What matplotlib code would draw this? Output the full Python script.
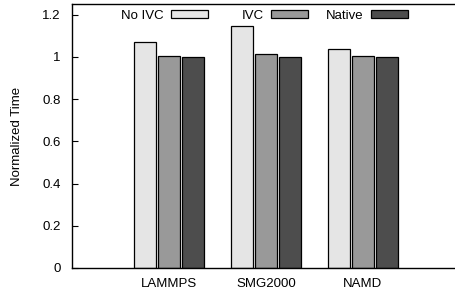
import numpy as np
import matplotlib
matplotlib.use("Agg")
import matplotlib.pyplot as plt
from matplotlib.ticker import FuncFormatter

plt.rcParams['font.family'] = ['Liberation Sans', 'DejaVu Sans']
plt.rcParams['font.size'] = 9.5

# data
benchmarks = ["LAMMPS", "SMG2000", "NAMD"]
series = ["No IVC", "IVC", "Native"]
no_ivc = [1.070, 1.147, 1.039]
ivc = [1.006, 1.012, 1.005]
native = [1.0, 1.0, 1.0]
colors = ["#e5e5e5", "#999999", "#4d4d4d"]

fig = plt.figure(figsize=(4.55, 2.95), dpi=100)
# axes run off the right edge like the original crop
ax = fig.add_axes([72/455, 27/295, 388/455, 264/295])

x = np.arange(len(benchmarks))
width = 0.23
step = 0.25
bars = []
for k, (vals, name, col) in enumerate(zip([no_ivc, ivc, native], series, colors)):
    b = ax.bar(x + (k - 1)*step, vals, width, color=col, edgecolor="black",
               linewidth=0.9, label=name)
    bars.append(b)

ax.set_xlim(-1, 3)
ax.set_ylim(0, 1.25)
ax.set_yticks([0, 0.2, 0.4, 0.6, 0.8, 1.0, 1.2])
ax.yaxis.set_major_formatter(FuncFormatter(lambda v, p: "%g" % round(v, 1)))
ax.set_xticks(x)
ax.set_xticklabels(benchmarks)
ax.tick_params(axis="x", length=0, pad=7)
ax.tick_params(axis="y", direction="in", length=4, width=0.8, pad=8)
ax.set_ylabel("Normalized Time", labelpad=14)
for s in ax.spines.values():
    s.set_linewidth(1.0)

# gnuplot-style key: equal-width columns, text right-aligned before the sample
col_right = [0.351, 0.608, 0.866]
for k in range(len(series)):
    leg = ax.legend([bars[k]], [series[k]], loc="upper right",
                    bbox_to_anchor=(col_right[k], 0.978), frameon=False,
                    markerfirst=False, handlelength=2.8, handleheight=0.6,
                    handletextpad=0.55, borderpad=0, borderaxespad=0)
    if k < len(series) - 1:
        ax.add_artist(leg)

fig.savefig("out.png", dpi=100)
